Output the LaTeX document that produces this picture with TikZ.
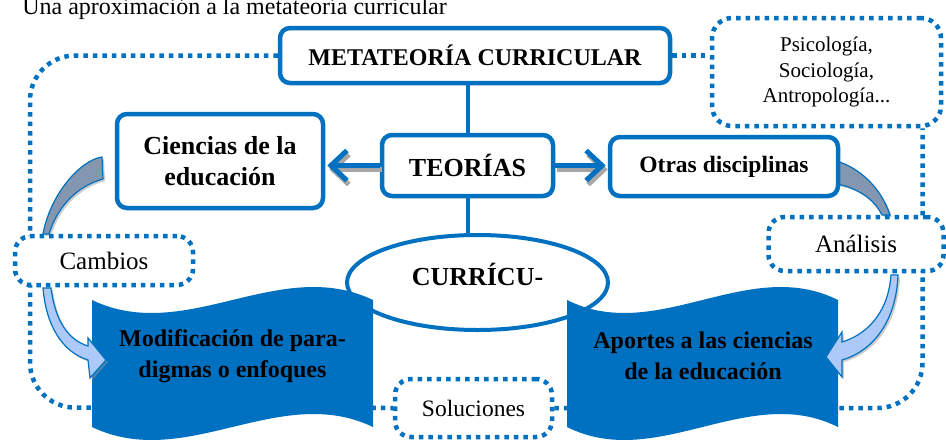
\documentclass[tikz,border=0pt]{standalone}
\usepackage{fontspec}
\setmainfont{Liberation Serif}
\usetikzlibrary{arrows.meta,shapes.geometric,shadows,backgrounds,calc}
\definecolor{azul}{RGB}{0,112,192}
\definecolor{gris}{RGB}{132,151,176}
\definecolor{celeste}{RGB}{172,201,248}

\begin{document}
\begin{tikzpicture}[x=1pt, y=-1pt, semithick]
\tikzstyle{box}=[rectangle, rounded corners=10pt, draw=azul, line width=4.5pt, fill=white, inner sep=0pt, align=center, font=\fontsize{26}{31}\selectfont\bfseries]
\tikzstyle{dotbox}=[rectangle, rounded corners=16pt, draw=azul, line width=4.5pt, dash pattern=on 4.5pt off 5pt, fill=white, inner sep=0pt, align=center, font=\fontsize{25}{30}\selectfont]
\tikzstyle{dotline}=[draw=azul, line width=4.5pt, dash pattern=on 4.5pt off 5pt, rounded corners=45pt]
\tikzstyle{conn}=[draw=azul, line width=4pt]
\tikzstyle{flecha}=[draw=azul, line width=5pt, shorten >=2pt, -{Straight Barb[length=16pt,width=30pt]}]
\tikzstyle{sombra}=[draw=gray!70, line width=5pt, shorten >=2pt, -{Straight Barb[length=16pt,width=30pt]}, transform canvas={shift={(2pt,-4pt)}}]
\tikzstyle{rollo}=[fill=azul]
\tikzstyle{rollotext}=[align=center, font=\fontsize{24}{31}\selectfont\bfseries]
\tikzstyle{curva}=[draw=azul, line width=1.2pt, drop shadow={shadow xshift=2pt, shadow yshift=-2pt, fill=gray!80}]
\useasboundingbox (0,0) rectangle (946,440);
%
\node[anchor=base west, inner sep=0pt, font=\fontsize{24}{28}\selectfont] (titulo) at (22,14) {Una aproximación a la metateoría curricular};
%
\node[ellipse, draw=azul, line width=4pt, fill=white, minimum width=261pt, minimum height=95pt, text height=17pt, text depth=12pt, font=\fontsize{26}{31}\selectfont\bfseries] (curr) at (477.5,282.5) {CURRÍCU-};
%
% rollos
\fill[rollo] (92,300) .. controls (186,345) and (279,255) .. (373,300) -- (373,427) .. controls (279,382) and (186,472) .. (92,427) -- cycle;
\fill[rollo] (567,300) .. controls (657,345) and (748,255) .. (838,300) -- (838,427) .. controls (748,382) and (657,472) .. (567,427) -- cycle;
\node[rollotext] (modif) at (232.5,356) {Modificación de para-\\digmas o enfoques};
\node[rollotext] (aport) at (703,356) {Aportes a las ciencias\\de la educación};
%
% flechas curvas
\filldraw[curva, fill=gris] (102,157) .. controls (80,160) and (50,195) .. (43,234) -- (49,234) .. controls (58,205) and (78,186) .. (103,179) -- cycle;
\filldraw[curva, fill=celeste] (43,288) .. controls (46,325) and (62,352) .. (88,360) -- (90,378) -- (106,360) -- (88,338) -- (88,346) .. controls (68,340) and (55,320) .. (51,288) -- cycle;
\filldraw[curva, fill=gris] (823,158) .. controls (855,162) and (880,185) .. (890,215) -- (882,215) .. controls (872,195) and (850,184) .. (823,182) -- cycle;
\filldraw[curva, fill=celeste] (898,275) .. controls (896,325) and (870,352) .. (842,360) -- (842,377) -- (826,357) -- (842,332) -- (842,342) .. controls (865,335) and (888,315) .. (891,275) -- cycle;
%
\node[box, minimum width=390pt, minimum height=55pt, font=\fontsize{24}{28}\selectfont\bfseries] (meta) at (475,55.5) {METATEORÍA CURRICULAR};
\node[box, minimum width=171pt, minimum height=61pt] (teo) at (467.5,165.5) {TEORÍAS};
\node[box, minimum width=206pt, minimum height=94pt] (cien) at (220,161) {Ciencias de la\\educación};
\node[box, minimum width=228pt, minimum height=59pt, font=\fontsize{23.5}{28}\selectfont\bfseries] (otras) at (724,166.5) {Otras disciplinas};
\node[dotbox, minimum width=229pt, minimum height=108pt, rounded corners=20pt, font=\fontsize{21}{25.5}\selectfont] (psy) at (826.5,72) {Psicología,\\Sociología,\\Antropología...};
\node[dotbox, minimum width=178pt, minimum height=49pt] (cam) at (104,260.5) {Cambios};
\node[dotbox, minimum width=175pt, minimum height=54pt] (ana) at (856,244) {Análisis};
\node[dotbox, minimum width=157pt, minimum height=58pt, font=\fontsize{23.5}{28}\selectfont] (sol) at (473.5,408) {Soluciones};
%
% lineas de fondo
\begin{pgfonlayer}{background}
\draw[dotline] (meta.west) -| (30,407.5) -- (sol.west);
\draw[dotline] (sol.east) -| ([xshift=96pt]psy.south);
\draw[dotline, rounded corners=0pt] (meta.east) -- (meta.east -| psy.west);
\draw[conn] (meta.south -| teo.north) -- (teo.north);
\draw[conn] (teo.south) -- (teo.south |- curr.north);
\end{pgfonlayer}
%
\draw[sombra] (teo.west) -- (teo.west -| cien.east);
\draw[flecha] (teo.west) -- (teo.west -| cien.east);
\draw[sombra] (teo.east) -- (teo.east -| otras.west);
\draw[flecha] (teo.east) -- (teo.east -| otras.west);
\end{tikzpicture}
\end{document}
